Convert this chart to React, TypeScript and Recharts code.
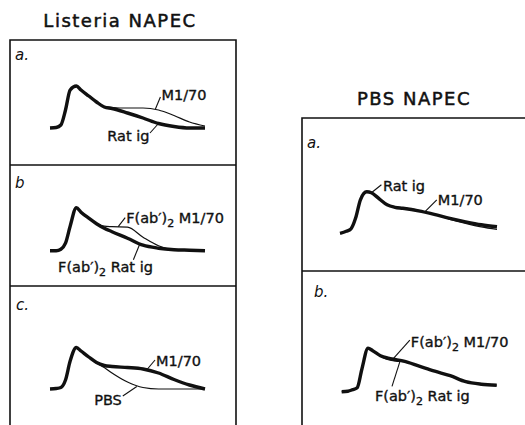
import type { FC } from 'react';
import { LineChart, Line, XAxis, YAxis, ReferenceDot } from 'recharts';

// sampling times (arbitrary units, 0 = start of trace)
const TIME = [0, 4, 7, 10, 13, 17, 20, 25, 30, 35, 40, 50, 60, 70, 80, 90, 100];

// Listeria NAPEC
const LIS_A_RAT_IG = [0, 1, 6, 36, 76, 84, 76, 64, 52, 42, 39, 30, 20, 9, 3, 0, 0];
const LIS_A_M170 = [0, 1, 6, 36, 76, 84, 77, 65, 53, 43, 41, 40, 40, 36, 25, 12, 4];
const LIS_B_RAT_IG = [0, 0, 3, 15, 49, 86, 77, 65, 54, 45, 38, 25, 11, 5, 2, 1, 0];
const LIS_B_M170 = [0, 0, 3, 15, 49, 86, 78, 66, 55, 49, 48, 47, 27, 10, 2, 1, 0];
const LIS_C_M170 = [0, 1, 3, 18, 56, 83, 76, 64, 53, 47, 45, 43, 40, 32, 19, 8, 0];
const LIS_C_PBS = [0, 1, 3, 18, 56, 83, 76, 64, 52, 43, 32, 14, 3, 0, 0, 0, 0];

// PBS NAPEC
const PBS_A_RAT_IG = [0, 4, 9, 31, 67, 83, 81, 69, 57, 52, 50, 45, 38, 30, 23, 17, 13];
const PBS_A_M170 = [0, 4, 9, 31, 67, 83, 81, 69, 58, 53, 51, 46, 38, 28, 20, 13, 8];
const PBS_B_M170 = [0, 1, 4, 8, 45, 87, 82, 72, 67, 64, 61, 51, 41, 32, 20, 15, 13];
const PBS_B_RAT_IG = [0, 1, 4, 8, 45, 87, 82, 71, 64, 61, 60, 51, 41, 32, 20, 15, 13];

const FONT = '"DejaVu Sans", sans-serif';
const INK = '#111';

interface Note {
  text: string;
  t: number;
  v: number;
  lead: [number, number];
  at: [number, number];
  anchor: 'start' | 'end';
}

interface Box { left: number; top: number; width: number; height: number }
interface Plot { x0: number; x1: number; base: number }

const LabelText: FC<{ x: number; y: number; text: string; anchor: 'start' | 'end' }> = ({ x, y, text, anchor }) => {
  const parts = text.split('₂');
  return (
    <text x={x} y={y} textAnchor={anchor} fontFamily={FONT} fontSize={14.5} fill={INK} stroke={INK} strokeWidth={0.35}>
      {parts.length === 1 ? text : (
        <>
          <tspan>{parts[0]}</tspan>
          <tspan dy={4} fontSize={11}>2</tspan>
          <tspan dy={-4}>{parts[1]}</tspan>
        </>
      )}
    </text>
  );
};

const Panel: FC<{ box: Box; plot: Plot; thick: number[]; thin: number[]; notes: Note[] }> = ({ box, plot, thick, thin, notes }) => {
  const rows = TIME.map((t, i) => ({ t, thick: thick[i], thin: thin[i] }));
  const margin = {
    left: plot.x0 - box.left,
    right: box.left + box.width - plot.x1,
    top: plot.base - 50 - box.top,
    bottom: box.top + box.height - plot.base,
  };
  return (
    <div style={{ position: 'absolute', left: box.left, top: box.top }}>
      <LineChart width={box.width} height={box.height} data={rows} margin={margin}>
        <XAxis type="number" dataKey="t" domain={[0, 100]} hide />
        <YAxis type="number" domain={[0, 100]} hide />
        <Line dataKey="thick" type="monotone" stroke={INK} strokeWidth={3.4} dot={false} isAnimationActive={false} />
        <Line dataKey="thin" type="monotone" stroke={INK} strokeWidth={1.2} dot={false} isAnimationActive={false} />
        {notes.map((n) => (
          <ReferenceDot
            key={n.text}
            x={n.t}
            y={n.v}
            r={0}
            ifOverflow="visible"
            shape={(p: any) => (
              <g>
                <line x1={p.cx} y1={p.cy} x2={p.cx + n.lead[0]} y2={p.cy + n.lead[1]} stroke={INK} strokeWidth={1.1} />
                <LabelText x={p.cx + n.at[0]} y={p.cy + n.at[1]} text={n.text} anchor={n.anchor} />
              </g>
            )}
          />
        ))}
      </LineChart>
    </div>
  );
};

const App: FC = () => {
  return (
    <div style={{ position: 'fixed', left: 0, top: 0, width: 525, height: 425, background: '#fff', overflow: 'hidden' }}>
      <svg width={525} height={425} style={{ position: 'absolute', left: 0, top: 0 }}>
        <g stroke={INK} strokeWidth={1.6} fill="none">
          <polyline points="10,425 10,40 236,40 236,425" />
          <line x1={10} y1={165} x2={236} y2={165} />
          <line x1={10} y1={286} x2={236} y2={286} />
          <polyline points="302,425 302,118 525,118" />
          <line x1={302} y1={271} x2={525} y2={271} />
        </g>
        <g fontFamily={FONT} fontSize={18} letterSpacing={1.5} fill={INK} stroke={INK} strokeWidth={0.5} textAnchor="middle">
          <text x={120} y={27}>Listeria NAPEC</text>
          <text x={414} y={105}>PBS NAPEC</text>
        </g>
        <g fontFamily={FONT} fontSize={15} fontStyle="italic" fill={INK}>
          <text x={15} y={60}>a.</text>
          <text x={15} y={188}>b</text>
          <text x={16} y={310}>c.</text>
          <text x={307} y={148}>a.</text>
          <text x={314} y={297}>b.</text>
        </g>
      </svg>
      <Panel
        box={{ left: 10, top: 40, width: 226, height: 125 }}
        plot={{ x0: 50, x1: 205, base: 128 }}
        thick={LIS_A_RAT_IG}
        thin={LIS_A_M170}
        notes={[
          { text: 'M1/70', t: 68, v: 38, lead: [5, -12], at: [6, -9], anchor: 'start' },
          { text: 'Rat ig', t: 70, v: 9, lead: [-8.5, 9.5], at: [-9, 17.5], anchor: 'end' },
        ]}
      />
      <Panel
        box={{ left: 10, top: 165, width: 226, height: 121 }}
        plot={{ x0: 50, x1: 205, base: 250.7 }}
        thick={LIS_B_RAT_IG}
        thin={LIS_B_M170}
        notes={[
          { text: 'F(ab′)₂ M1/70', t: 44, v: 48, lead: [7, -9], at: [8, -4], anchor: 'start' },
          { text: 'F(ab′)₂ Rat ig', t: 58, v: 14, lead: [-6.5, 16], at: [13, 28], anchor: 'end' },
        ]}
      />
      <Panel
        box={{ left: 10, top: 286, width: 226, height: 139 }}
        plot={{ x0: 50, x1: 205, base: 389 }}
        thick={LIS_C_M170}
        thin={LIS_C_PBS}
        notes={[
          { text: 'M1/70', t: 62.6, v: 39, lead: [8, -9.5], at: [9, -3.5], anchor: 'start' },
          { text: 'PBS', t: 56, v: 5, lead: [-14, 9.5], at: [-15, 18.5], anchor: 'end' },
        ]}
      />
      <Panel
        box={{ left: 302, top: 118, width: 223, height: 153 }}
        plot={{ x0: 340, x1: 497, base: 233.3 }}
        thick={PBS_A_RAT_IG}
        thin={PBS_A_M170}
        notes={[
          { text: 'Rat ig', t: 20, v: 81, lead: [10, -8], at: [11.5, -2], anchor: 'start' },
          { text: 'M1/70', t: 54, v: 43, lead: [12, -12], at: [13, -7], anchor: 'start' },
        ]}
      />
      <Panel
        box={{ left: 302, top: 271, width: 223, height: 154 }}
        plot={{ x0: 341.7, x1: 496.7, base: 391.7 }}
        thick={PBS_B_M170}
        thin={PBS_B_RAT_IG}
        notes={[
          { text: 'F(ab′)₂ M1/70', t: 33, v: 65, lead: [17, -19], at: [18, -12], anchor: 'start' },
          { text: 'F(ab′)₂ Rat ig', t: 37.6, v: 60.5, lead: [-8, 25], at: [-25, 40], anchor: 'start' },
        ]}
      />
    </div>
  );
};

export default App;
